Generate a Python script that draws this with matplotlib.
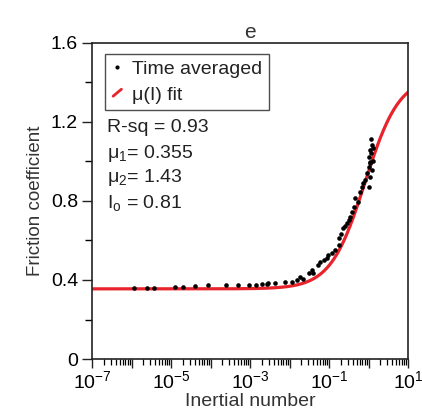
import numpy as np
import matplotlib
matplotlib.use("Agg")
import matplotlib.pyplot as plt
from matplotlib.legend_handler import HandlerBase
from matplotlib.lines import Line2D
from matplotlib.ticker import LogLocator, FixedLocator, NullFormatter

plt.rcParams['font.family'] = ['Liberation Sans', 'DejaVu Sans']
plt.rcParams['mathtext.fontset'] = 'custom'
plt.rcParams['mathtext.rm'] = 'Liberation Sans'
plt.rcParams['mathtext.it'] = 'Liberation Sans:italic'

# Data (log10 of inertial number, friction coefficient)
log_inertial = [-5.94, -5.60, -5.42, -4.90, -4.69, -4.39, -4.06, -3.61, -3.30, -3.02,
                -2.85, -2.70, -2.58, -2.54, -2.37, -2.11, -1.94, -1.82, -1.73, -1.65,
                -1.52, -1.44, -1.40, -1.27, -1.23, -1.14, -1.06, -1.02, -0.93, -0.85,
                -0.76, -0.74, -0.70, -0.64, -0.60, -0.55, -0.50, -0.47, -0.43, -0.38,
                -0.34, -0.26, -0.22, -0.17, -0.13, -0.09, 0.00, -0.05, 0.00, 0.04,
                0.04, 0.02, 0.06, 0.04, 0.08, 0.06, 0.11, 0.08, 0.10, 0.03]
friction = [0.358, 0.358, 0.358, 0.366, 0.366, 0.368, 0.373, 0.372, 0.372, 0.374,
            0.376, 0.378, 0.379, 0.383, 0.386, 0.388, 0.391, 0.400, 0.413, 0.403,
            0.433, 0.450, 0.437, 0.475, 0.492, 0.500, 0.509, 0.526, 0.534, 0.551,
            0.577, 0.610, 0.630, 0.661, 0.672, 0.686, 0.705, 0.720, 0.745, 0.770,
            0.813, 0.796, 0.846, 0.872, 0.889, 0.905, 0.872, 0.939, 0.973, 0.922,
            0.998, 1.024, 1.040, 1.057, 1.082, 1.111, 1.066, 0.956, 1.000, 0.990]

mu1 = 0.355
mu2 = 1.43
I0 = 0.81
r_sq = 0.93

inertial = 10.0 ** np.array(log_inertial)
I_fit = np.logspace(-7, 1, 400)
mu_fit = mu1 + (mu2 - mu1) / (I0 / I_fit + 1)

red = '#e8232b'

fig = plt.figure(figsize=(4.22, 4.18), dpi=100)
ax = fig.add_axes([0.218, 0.141, 0.749, 0.757])

ax.plot(I_fit, mu_fit, color=red, lw=2.3, zorder=2)
ax.plot(inertial, friction, 'o', color='black', ms=3.3, mew=0, zorder=3)

ax.set_xscale('log')
ax.set_xlim(1e-7, 1e1)
ax.set_ylim(0, 1.6)

ax.xaxis.set_major_locator(FixedLocator([10.0 ** k for k in range(-7, 2)]))
ax.xaxis.set_minor_locator(LogLocator(base=10, subs=np.arange(2, 10), numticks=20))
ax.xaxis.set_minor_formatter(NullFormatter())
ax.set_xticks([10.0 ** k for k in range(-7, 2)])
ax.set_xticklabels([r'$10^{%d}$' % k if k % 2 != 0 else '' for k in range(-7, 2)])
ax.set_yticks([0, 0.4, 0.8, 1.2, 1.6])
ax.set_yticklabels(['0', '0.4', '0.8', '1.2', '1.6'])
ax.set_yticks([0.2, 0.6, 1.0, 1.4], minor=True)

ax.tick_params(axis='both', which='major', direction='out', labelsize=14, width=1.0, color='#222222')
ax.tick_params(axis='x', which='major', length=6.5, pad=1.5)
ax.tick_params(axis='x', which='minor', length=4, width=0.9, direction='out')
ax.tick_params(axis='y', which='major', length=7, pad=3)
ax.tick_params(axis='y', which='minor', length=5, width=1.0, direction='out')
for s in ax.spines.values():
    s.set_linewidth(1.2)
    s.set_color('#222222')

ax.set_xlabel('Inertial number', fontsize=14, labelpad=0.5, color='#333333')
ax.set_ylabel('Friction coefficient', fontsize=13.5, labelpad=5, color='#333333')
ax.set_title('e', fontsize=15, pad=3, color='#333333')


class SlashHandler(HandlerBase):
    def create_artists(self, legend, orig_handle, xdescent, ydescent, width, height, fontsize, trans):
        cx = width * 0.5 - xdescent
        cy = height * 0.5 - ydescent
        l = Line2D([cx - 3.0, cx + 3.0], [cy - 2.5, cy + 2.5], color=red, lw=2.0,
                   solid_capstyle='round', transform=trans)
        return [l]


class DotHandler(HandlerBase):
    def create_artists(self, legend, orig_handle, xdescent, ydescent, width, height, fontsize, trans):
        cx = width * 0.5 - xdescent
        cy = height * 0.5 - ydescent
        l = Line2D([cx], [cy], marker='o', color='black', ms=3.0, mew=0, ls='none', transform=trans)
        return [l]


h_dot = Line2D([], [], marker='o', color='black', ls='none')
h_line = Line2D([], [], color=red)
leg = ax.legend([h_dot, h_line], ['Time averaged', 'μ(I) fit'],
                handler_map={h_dot: DotHandler(), h_line: SlashHandler()},
                loc='upper left', bbox_to_anchor=(0.04, 0.965), fontsize=14,
                frameon=True, fancybox=False, edgecolor='#222222', handlelength=0.6,
                handletextpad=0.45, borderpad=0.35, labelspacing=0.4, borderaxespad=0)
leg.get_frame().set_linewidth(1.0)
for t in leg.get_texts():
    t.set_color('#222222')

texts = ['R-sq = %.2f' % r_sq,
         r'μ$_1$= %.3f' % mu1,
         r'μ$_2$= %.2f' % mu2,
         r'I$_{\mathrm{o}}$ = %.2f' % I0]
ys = [128, 153, 178, 203]
for t, yp in zip(texts, ys):
    fig.text(107 / 422, 1 - yp / 418, t, fontsize=14, va='center', ha='left', color='#222222')

fig.savefig('out.png', dpi=100)
